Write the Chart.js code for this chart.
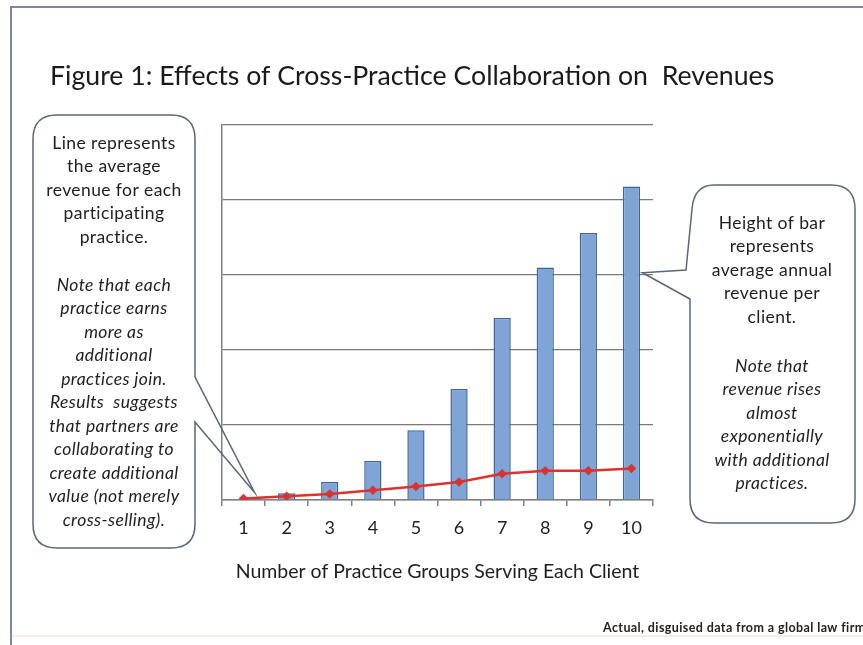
<!DOCTYPE html>
<html><head><meta charset="utf-8">
<script src="https://cdn.jsdelivr.net/npm/chart.js@4/dist/chart.umd.min.js"></script>
<style>html,body{margin:0;padding:0;background:#fff;overflow:hidden}</style>
</head><body>
<canvas id="c" width="863" height="645"></canvas>
<script>
const categories = ['1','2','3','4','5','6','7','8','9','10'];
const revenuePerClient = [0.01, 0.09, 0.24, 0.52, 0.93, 1.48, 2.43, 3.10, 3.56, 4.18];
const revenuePerPractice = [0.02, 0.05, 0.08, 0.13, 0.18, 0.24, 0.35, 0.39, 0.39, 0.42];
const yTicks = [0, 1, 2, 3, 4, 5];
const titleText = 'Figure 1: Effects of Cross-Practice Collaboration on  Revenues';
const xAxisTitle = 'Number of Practice Groups Serving Each Client';
const leftNoteNormal = ['Line represents', 'the average', 'revenue for each', 'participating', 'practice.'];
const leftNoteItalic = ['Note that each', 'practice earns', 'more as', 'additional', 'practices join.', 'Results  suggests', 'that partners are', 'collaborating to', 'create additional', 'value (not merely', 'cross-selling).'];
const rightNoteNormal = ['Height of bar', 'represents', 'average annual', 'revenue per', 'client.'];
const rightNoteItalic = ['Note that', 'revenue rises', 'almost', 'exponentially', 'with additional', 'practices.'];
const footnote = 'Actual, disguised data from a global law firm';

const FONT = 'Lato, "Open Sans", sans-serif';

const decor = {
  id: 'decor',
  beforeDraw(chart) {
    const ctx = chart.ctx;
    ctx.save();
    ctx.fillStyle = '#ffffff';
    ctx.fillRect(0, 0, chart.width, chart.height);
    // frame
    ctx.strokeStyle = '#7d8796';
    ctx.lineWidth = 2;
    ctx.beginPath();
    ctx.moveTo(11, 645); ctx.lineTo(11, 7); ctx.lineTo(863, 7);
    ctx.stroke();
    ctx.strokeStyle = '#f3e6dc';
    ctx.lineWidth = 1.5;
    ctx.beginPath();
    ctx.moveTo(12, 636); ctx.lineTo(863, 636);
    ctx.stroke();
    // title
    ctx.fillStyle = '#1a1a1a';
    ctx.font = '26.7px ' + FONT;
    ctx.textBaseline = 'middle';
    ctx.textAlign = 'left';
    ctx.fillText(titleText, 50, 76);
    // footnote
    ctx.font = 'bold 12.5px ' + FONT;
    ctx.fillStyle = '#222';
    ctx.letterSpacing = '0.4px';
    ctx.fillText(footnote, 603, 628);
    ctx.restore();
  },
  afterDraw(chart) {
    const ctx = chart.ctx;
    const xs = chart.scales.x, ys = chart.scales.y;
    ctx.save();
    ctx.strokeStyle = '#5b6577';
    ctx.lineWidth = 1.5;
    // left callout
    const tipL = { x: xs.getPixelForValue(0) + 11, y: ys.getPixelForValue(0.1) };
    ctx.beginPath();
    const lx = 33, ly = 115, lw = 162, lh = 433, r = 24;
    ctx.moveTo(lx + r, ly);
    ctx.lineTo(lx + lw - r, ly);
    ctx.quadraticCurveTo(lx + lw, ly, lx + lw, ly + r);
    ctx.lineTo(lx + lw, 377);
    ctx.lineTo(tipL.x, tipL.y);
    ctx.lineTo(lx + lw, 422);
    ctx.lineTo(lx + lw, ly + lh - r);
    ctx.quadraticCurveTo(lx + lw, ly + lh, lx + lw - r, ly + lh);
    ctx.lineTo(lx + r, ly + lh);
    ctx.quadraticCurveTo(lx, ly + lh, lx, ly + lh - r);
    ctx.lineTo(lx, ly + r);
    ctx.quadraticCurveTo(lx, ly, lx + r, ly);
    ctx.closePath();
    ctx.stroke();
    // right callout
    const tipR = { x: xs.getPixelForValue(9) + 11, y: ys.getPixelForValue(3.03) };
    const rx = 690, ry = 185, rw = 165, rh = 338;
    ctx.beginPath();
    ctx.moveTo(rx + r, ry);
    ctx.lineTo(rx + rw - r, ry);
    ctx.quadraticCurveTo(rx + rw, ry, rx + rw, ry + r);
    ctx.lineTo(rx + rw, ry + rh - r);
    ctx.quadraticCurveTo(rx + rw, ry + rh, rx + rw - r, ry + rh);
    ctx.lineTo(rx + r, ry + rh);
    ctx.quadraticCurveTo(rx, ry + rh, rx, ry + rh - r);
    ctx.lineTo(rx, 299);
    ctx.lineTo(tipR.x, tipR.y);
    ctx.lineTo(rx - 4, 270);
    ctx.lineTo(rx + 2, ry + r);
    ctx.quadraticCurveTo(rx + 4, ry, rx + r, ry);
    ctx.closePath();
    ctx.stroke();
    // texts
    ctx.fillStyle = '#1e1e1e';
    ctx.textAlign = 'center';
    ctx.textBaseline = 'middle';
    ctx.letterSpacing = '0.4px';
    const lh2 = 23.5;
    ctx.font = '17.5px ' + FONT;
    leftNoteNormal.forEach((t, i) => ctx.fillText(t, 114, 143 + i * lh2));
    ctx.font = 'italic 17.5px ' + FONT;
    leftNoteItalic.forEach((t, i) => ctx.fillText(t, 114, 285 + i * lh2));
    ctx.font = '17.5px ' + FONT;
    rightNoteNormal.forEach((t, i) => ctx.fillText(t, 772, 223 + i * lh2));
    ctx.font = 'italic 17.5px ' + FONT;
    rightNoteItalic.forEach((t, i) => ctx.fillText(t, 772, 366 + i * lh2));
    ctx.restore();
  }
};

new Chart(document.getElementById('c'), {
  type: 'bar',
  data: {
    labels: categories,
    datasets: [
      {
        type: 'line',
        label: 'Average revenue per participating practice',
        data: revenuePerPractice,
        borderColor: '#d9342f',
        backgroundColor: '#d9342f',
        borderWidth: 2.5,
        pointStyle: 'rectRot',
        pointRadius: 3,
        pointBackgroundColor: '#d9342f',
        pointBorderColor: '#d9342f',
        tension: 0,
        order: 0
      },
      {
        type: 'bar',
        label: 'Average annual revenue per client',
        data: revenuePerClient,
        backgroundColor: '#7ea5d6',
        borderColor: '#3e64a0',
        borderWidth: 1.5,
        barPercentage: 0.4,
        categoryPercentage: 1,
        order: 1
      }
    ]
  },
  options: {
    responsive: false,
    animation: false,
    events: [],
    layout: { padding: { left: 222, top: 125, right: 210, bottom: 58 } },
    plugins: { legend: { display: false }, title: { display: false }, tooltip: { enabled: false } },
    scales: {
      x: {
        grid: { offset: true, drawOnChartArea: false, drawTicks: true, tickLength: 6, color: '#808080', lineWidth: 1.5 },
        border: { color: '#808080', width: 1.5 },
        ticks: { font: { size: 18, family: FONT }, color: '#1e1e1e', padding: 11 },
        title: { display: true, text: xAxisTitle, font: { size: 19.5, family: FONT }, color: '#1e1e1e', padding: { top: 10, bottom: 4 } }
      },
      y: {
        min: yTicks[0],
        max: yTicks[yTicks.length - 1],
        afterBuildTicks: (scale) => { scale.ticks = yTicks.map(v => ({ value: v })); },
        ticks: { display: false },
        grid: { color: '#7a7a7a', lineWidth: 1.3, drawTicks: false },
        border: { color: '#808080', width: 1.5 }
      }
    }
  },
  plugins: [decor]
});
</script>
</body></html>
